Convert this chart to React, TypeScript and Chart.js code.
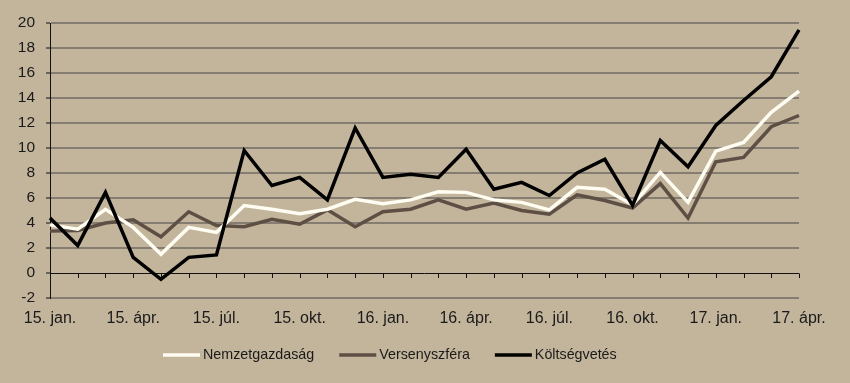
import React, { useEffect, useRef } from "react";
import { Chart, registerables } from "chart.js";

Chart.register(...registerables);

const categories = [
  "15. jan.", "15. febr.", "15. márc.", "15. ápr.", "15. máj.", "15. jún.",
  "15. júl.", "15. aug.", "15. szept.", "15. okt.", "15. nov.", "15. dec.",
  "16. jan.", "16. febr.", "16. márc.", "16. ápr.", "16. máj.", "16. jún.",
  "16. júl.", "16. aug.", "16. szept.", "16. okt.", "16. nov.", "16. dec.",
  "17. jan.", "17. febr.", "17. márc.", "17. ápr.",
];

const nemzetgazdasag = [
  3.85, 3.5, 5.1, 3.65, 1.5, 3.65, 3.25, 5.4, 5.1, 4.75, 5.1, 5.9, 5.55, 5.85,
  6.5, 6.45, 5.85, 5.65, 5.05, 6.85, 6.7, 5.45, 8.05, 5.65, 9.75, 10.45, 12.85, 14.55,
];

const versenyszfera = [
  3.35, 3.4, 4.0, 4.25, 2.9, 4.9, 3.8, 3.7, 4.3, 3.9, 5.05, 3.7, 4.9, 5.1,
  5.85, 5.1, 5.6, 5.0, 4.7, 6.25, 5.8, 5.2, 7.15, 4.4, 8.9, 9.25, 11.7, 12.6,
];

const koltsegvetes = [
  4.4, 2.2, 6.45, 1.25, -0.5, 1.25, 1.45, 9.8, 7.0, 7.65, 5.85, 11.6, 7.65, 7.9,
  7.65, 9.9, 6.7, 7.25, 6.2, 8.0, 9.1, 5.4, 10.6, 8.5, 11.8, 13.8, 15.7, 19.45,
];

const seriesNames = ["Nemzetgazdaság", "Versenyszféra", "Költségvetés"];
const seriesColors = ["#fffcf2", "#5d4f44", "#000000"];

const yMin = -2;
const yMax = 20;
const yStep = 2;

const FONT = "'Liberation Sans', Arial, sans-serif";
const BG = "#c3b59c";
const GRID = "#867d72";
const TEXT = "#1a1a1a";

const zeroAxisPlugin = {
  id: "zeroAxis",
  beforeDatasetsDraw(chart: any) {
    const { ctx, scales } = chart;
    const x = scales.x;
    const y = scales.y;
    const y0 = y.getPixelForValue(0);
    ctx.save();
    ctx.strokeStyle = "#111";
    ctx.lineWidth = 1;
    ctx.beginPath();
    ctx.moveTo(chart.chartArea.left, Math.round(y0) + 0.5);
    ctx.lineTo(chart.chartArea.right, Math.round(y0) + 0.5);
    for (let i = 0; i < categories.length; i++) {
      const px = Math.round(x.getPixelForValue(i)) + 0.5;
      ctx.moveTo(px, Math.round(y0) + 0.5);
      ctx.lineTo(px, Math.round(y0) + 5);
    }
    ctx.stroke();
    ctx.restore();
  },
};

const legendPlugin = {
  id: "customLegend",
  afterDraw(chart: any) {
    const { ctx } = chart;
    ctx.save();
    ctx.font = `14.3px ${FONT}`;
    ctx.textBaseline = "middle";
    ctx.textAlign = "left";
    let x = 163;
    const y = 355;
    chart.data.datasets.forEach((ds: any) => {
      ctx.strokeStyle = ds.borderColor;
      ctx.lineWidth = 3.5;
      ctx.beginPath();
      ctx.moveTo(x, y);
      ctx.lineTo(x + 37, y);
      ctx.stroke();
      ctx.fillStyle = TEXT;
      ctx.fillText(ds.label, x + 40, y);
      x += 40 + ctx.measureText(ds.label).width + 25;
    });
    ctx.restore();
  },
};

export default function App() {
  const canvasRef = useRef<HTMLCanvasElement | null>(null);

  useEffect(() => {
    document.body.style.margin = "0";
    const canvas = canvasRef.current;
    if (!canvas) return;
    const values = [nemzetgazdasag, versenyszfera, koltsegvetes];
    const orders = [1, 2, 0];
    const chart = new Chart(canvas, {
      type: "line",
      data: {
        labels: categories,
        datasets: values.map((v, i) => ({
          label: seriesNames[i],
          data: v,
          borderColor: seriesColors[i],
          backgroundColor: seriesColors[i],
          borderWidth: 3.5,
          pointRadius: 0,
          tension: 0,
          fill: false,
          order: orders[i],
        })),
      },
      options: {
        responsive: false,
        animation: false,
        devicePixelRatio: 1,
        layout: { padding: { top: 23, right: 51, bottom: 55, left: 0 } },
        plugins: {
          legend: { display: false },
          tooltip: { enabled: false },
        },
        scales: {
          x: {
            type: "category",
            offset: false,
            grid: { display: false, drawTicks: false },
            border: { display: false },
            ticks: {
              autoSkip: false,
              maxRotation: 0,
              minRotation: 0,
              padding: 11,
              color: TEXT,
              font: { family: FONT, size: 16 },
              callback: (_v: any, i: number) => (i % 3 === 0 ? categories[i] : ""),
            },
            afterFit: (scale: any) => {
              scale.height = 30;
            },
          },
          y: {
            min: yMin,
            max: yMax,
            grid: {
              color: (c: any) => (c.tick && c.tick.value === 0 ? "rgba(0,0,0,0)" : GRID),
              lineWidth: 2,
              drawTicks: true,
              tickLength: 4,
              tickColor: "#111",
              tickWidth: 1,
            },
            border: { display: true, color: "#111", width: 1 },
            ticks: {
              stepSize: yStep,
              padding: 11,
              color: TEXT,
              font: { family: FONT, size: 15.5 },
            },
            afterFit: (scale: any) => {
              scale.width = 50;
            },
          },
        },
      },
      plugins: [zeroAxisPlugin, legendPlugin],
    });
    return () => chart.destroy();
  }, []);

  return (
    <div style={{ width: 850, height: 383, background: BG }}>
      <canvas ref={canvasRef} width={850} height={383} style={{ display: "block" }} />
    </div>
  );
}
